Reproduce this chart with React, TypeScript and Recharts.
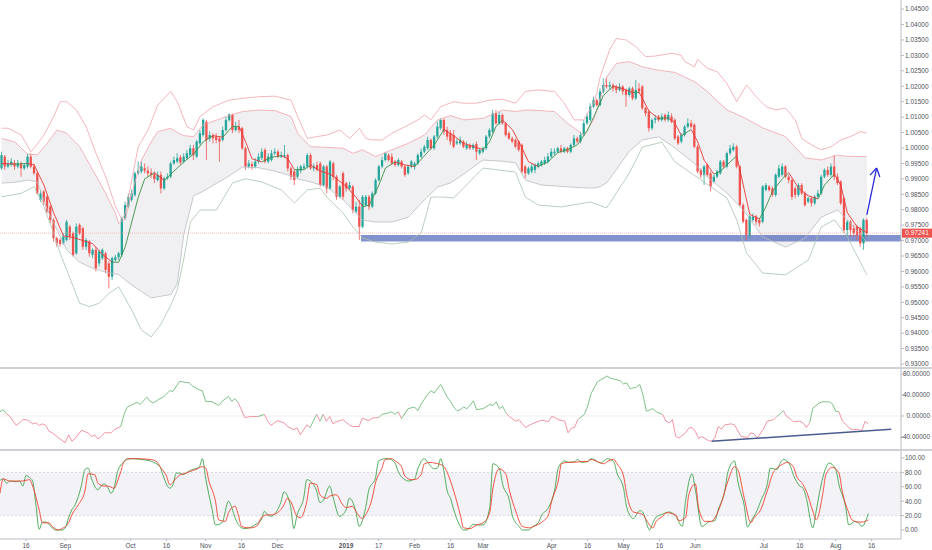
import React from "react";
import { ComposedChart, Bar, Line, Area, XAxis, YAxis, ReferenceLine, ReferenceArea } from "recharts";

const FONT = "'Liberation Sans', Arial, sans-serif";
const W = 932;
const SLOTS = 277;

// daily candles, Aug 2018 - Aug 2019
const opens = [
  0.9934,0.9972,0.9940,0.9945,0.9952,0.9940,0.9948,0.9934,0.9940,0.9972,
  0.9940,0.9918,0.9832,0.9859,0.9842,0.9810,0.9767,0.9708,0.9702,0.9691,
  0.9702,0.9745,0.9724,0.9659,0.9751,0.9740,0.9680,0.9697,0.9654,0.9670,
  0.9626,0.9643,0.9659,0.9626,0.9583,0.9637,0.9646,0.9654,0.9772,0.9810,
  0.9832,0.9848,0.9918,0.9924,0.9934,0.9927,0.9920,0.9916,0.9896,0.9913,
  0.9869,0.9902,0.9907,0.9950,0.9956,0.9970,0.9956,0.9967,0.9977,0.9999,
  0.9972,1.0015,1.0042,1.0085,1.0031,1.0042,1.0037,1.0031,1.0026,1.0058,
  1.0091,1.0107,1.0058,1.0069,1.0064,0.9999,0.9940,0.9948,0.9940,0.9956,
  0.9967,0.9994,0.9956,0.9961,0.9983,0.9988,0.9972,0.9972,0.9977,0.9934,
  0.9924,0.9907,0.9927,0.9934,0.9940,0.9977,0.9934,0.9945,0.9950,0.9880,
  0.9940,0.9869,0.9950,0.9907,0.9842,0.9918,0.9886,0.9869,0.9875,0.9794,
  0.9810,0.9745,0.9815,0.9842,0.9810,0.9853,0.9896,0.9940,0.9961,0.9977,
  0.9972,0.9956,0.9945,0.9956,0.9940,0.9918,0.9940,0.9940,0.9950,0.9972,
  0.9988,0.9999,1.0026,0.9999,1.0037,1.0064,1.0091,1.0058,1.0048,1.0042,
  1.0015,1.0015,1.0021,0.9999,1.0010,0.9999,1.0013,0.9983,0.9988,0.9999,
  1.0037,1.0053,1.0112,1.0080,1.0107,1.0080,1.0048,1.0031,1.0026,1.0021,
  1.0010,0.9940,0.9918,0.9924,0.9929,0.9940,0.9945,0.9950,0.9956,0.9972,
  0.9983,0.9988,0.9999,0.9988,0.9999,0.9988,1.0010,1.0031,1.0021,1.0042,
  1.0080,1.0091,1.0134,1.0155,1.0139,1.0183,1.0204,1.0199,1.0204,1.0199,
  1.0188,1.0199,1.0188,1.0172,1.0193,1.0161,1.0193,1.0199,1.0129,1.0118,
  1.0064,1.0091,1.0102,1.0091,1.0107,1.0091,1.0102,1.0091,1.0037,1.0021,
  1.0042,1.0069,1.0080,1.0075,1.0004,0.9929,0.9913,0.9945,0.9918,0.9891,
  0.9907,0.9918,0.9956,0.9940,0.9983,0.9994,1.0004,0.9940,0.9815,0.9767,
  0.9718,0.9767,0.9778,0.9767,0.9761,0.9864,0.9875,0.9869,0.9848,0.9907,
  0.9913,0.9940,0.9907,0.9896,0.9869,0.9848,0.9880,0.9853,0.9826,0.9837,
  0.9821,0.9842,0.9853,0.9907,0.9929,0.9913,0.9940,0.9907,0.9891,0.9837,
  0.9734,0.9761,0.9740,0.9745,0.9740,0.9691,0.9767,
];
const highs = [
  0.9988,0.9977,0.9961,0.9967,0.9961,0.9961,0.9956,0.9950,0.9983,0.9983,
  0.9950,0.9924,0.9864,0.9864,0.9848,0.9815,0.9772,0.9713,0.9708,0.9724,
  0.9767,0.9751,0.9729,0.9756,0.9756,0.9745,0.9708,0.9702,0.9675,0.9680,
  0.9670,0.9675,0.9664,0.9632,0.9648,0.9654,0.9664,0.9778,0.9826,0.9853,
  0.9864,0.9924,0.9956,0.9956,0.9950,0.9940,0.9934,0.9924,0.9924,0.9924,
  0.9907,0.9918,0.9956,0.9972,0.9983,0.9977,0.9983,0.9994,1.0010,1.0010,
  1.0026,1.0058,1.0096,1.0091,1.0053,1.0048,1.0048,1.0037,1.0069,1.0102,
  1.0112,1.0112,1.0085,1.0091,1.0069,1.0004,0.9961,0.9956,0.9967,0.9983,
  0.9999,0.9999,0.9983,0.9994,0.9999,0.9994,0.9988,1.0010,0.9983,0.9940,
  0.9929,0.9940,0.9945,0.9950,0.9983,0.9983,0.9950,0.9956,0.9956,0.9945,
  0.9945,0.9961,0.9956,0.9913,0.9880,0.9924,0.9891,0.9891,0.9880,0.9826,
  0.9832,0.9848,0.9848,0.9848,0.9859,0.9902,0.9945,0.9972,0.9988,0.9983,
  0.9983,0.9961,0.9967,0.9961,0.9945,0.9945,0.9961,0.9956,0.9983,0.9999,
  1.0010,1.0037,1.0031,1.0042,1.0085,1.0096,1.0096,1.0069,1.0058,1.0058,
  1.0031,1.0037,1.0026,1.0021,1.0015,1.0015,1.0021,0.9999,1.0004,1.0042,
  1.0064,1.0123,1.0123,1.0118,1.0112,1.0085,1.0053,1.0037,1.0031,1.0026,
  1.0015,0.9945,0.9940,0.9950,0.9950,0.9956,0.9961,0.9972,0.9983,0.9999,
  0.9999,1.0004,1.0010,1.0004,1.0004,1.0015,1.0042,1.0037,1.0053,1.0091,
  1.0112,1.0145,1.0166,1.0161,1.0193,1.0226,1.0231,1.0215,1.0210,1.0204,
  1.0210,1.0204,1.0193,1.0199,1.0199,1.0220,1.0210,1.0204,1.0134,1.0123,
  1.0096,1.0107,1.0107,1.0112,1.0112,1.0118,1.0112,1.0096,1.0042,1.0048,
  1.0075,1.0096,1.0091,1.0080,1.0010,0.9934,0.9945,0.9950,0.9924,0.9913,
  0.9929,0.9961,0.9961,0.9988,1.0010,1.0015,1.0010,0.9945,0.9821,0.9772,
  0.9783,0.9788,0.9783,0.9772,0.9880,0.9886,0.9880,0.9875,0.9918,0.9945,
  0.9950,0.9945,0.9913,0.9902,0.9875,0.9886,0.9886,0.9859,0.9842,0.9842,
  0.9848,0.9864,0.9913,0.9934,0.9940,0.9950,0.9977,0.9918,0.9896,0.9842,
  0.9767,0.9767,0.9751,0.9751,0.9745,0.9772,0.9772,
];
const lows = [
  0.9929,0.9929,0.9934,0.9940,0.9929,0.9934,0.9907,0.9929,0.9934,0.9934,
  0.9913,0.9848,0.9826,0.9815,0.9788,0.9756,0.9697,0.9680,0.9680,0.9686,
  0.9697,0.9702,0.9648,0.9654,0.9718,0.9670,0.9670,0.9648,0.9643,0.9600,
  0.9616,0.9637,0.9594,0.9545,0.9572,0.9632,0.9637,0.9648,0.9767,0.9805,
  0.9826,0.9842,0.9913,0.9918,0.9918,0.9907,0.9902,0.9886,0.9891,0.9853,
  0.9864,0.9896,0.9902,0.9945,0.9950,0.9945,0.9950,0.9961,0.9972,0.9961,
  0.9967,1.0010,1.0037,0.9961,1.0021,1.0015,1.0015,0.9956,1.0021,1.0053,
  1.0085,1.0048,1.0053,1.0048,0.9994,0.9929,0.9934,0.9929,0.9934,0.9950,
  0.9961,0.9950,0.9950,0.9956,0.9977,0.9967,0.9967,0.9967,0.9924,0.9896,
  0.9880,0.9902,0.9918,0.9929,0.9934,0.9929,0.9924,0.9924,0.9875,0.9875,
  0.9853,0.9864,0.9896,0.9832,0.9837,0.9832,0.9859,0.9864,0.9788,0.9788,
  0.9702,0.9740,0.9810,0.9799,0.9805,0.9848,0.9891,0.9934,0.9956,0.9956,
  0.9945,0.9940,0.9940,0.9934,0.9907,0.9913,0.9934,0.9929,0.9945,0.9967,
  0.9983,0.9994,0.9994,0.9994,1.0031,1.0058,1.0042,1.0026,1.0010,0.9999,
  1.0010,1.0010,0.9999,0.9994,0.9994,0.9994,0.9961,0.9977,0.9983,0.9994,
  1.0031,1.0048,1.0075,1.0075,1.0075,1.0037,1.0026,1.0015,0.9999,0.9988,
  0.9918,0.9902,0.9913,0.9918,0.9918,0.9934,0.9940,0.9945,0.9950,0.9967,
  0.9977,0.9983,0.9983,0.9983,0.9983,0.9983,1.0004,1.0015,1.0015,1.0037,
  1.0075,1.0085,1.0129,1.0134,1.0134,1.0177,1.0193,1.0188,1.0183,1.0177,
  1.0183,1.0172,1.0134,1.0166,1.0155,1.0155,1.0177,1.0123,1.0102,1.0053,
  1.0058,1.0080,1.0085,1.0085,1.0085,1.0085,1.0080,1.0026,1.0010,1.0015,
  1.0037,1.0064,1.0064,0.9999,0.9918,0.9902,0.9880,0.9907,0.9859,0.9886,
  0.9902,0.9913,0.9934,0.9934,0.9977,0.9988,0.9934,0.9810,0.9756,0.9702,
  0.9708,0.9761,0.9751,0.9745,0.9756,0.9859,0.9859,0.9842,0.9842,0.9902,
  0.9907,0.9902,0.9886,0.9832,0.9837,0.9842,0.9848,0.9810,0.9821,0.9810,
  0.9815,0.9837,0.9848,0.9902,0.9907,0.9907,0.9896,0.9880,0.9815,0.9724,
  0.9713,0.9713,0.9713,0.9702,0.9680,0.9670,0.9713,
];
const closes = [
  0.9977,0.9940,0.9950,0.9956,0.9940,0.9950,0.9934,0.9945,0.9972,0.9940,
  0.9918,0.9853,0.9853,0.9826,0.9794,0.9767,0.9708,0.9691,0.9689,0.9713,
  0.9761,0.9713,0.9654,0.9745,0.9724,0.9680,0.9702,0.9659,0.9670,0.9610,
  0.9664,0.9670,0.9605,0.9583,0.9643,0.9646,0.9659,0.9772,0.9815,0.9842,
  0.9853,0.9918,0.9927,0.9940,0.9927,0.9918,0.9913,0.9899,0.9913,0.9869,
  0.9902,0.9907,0.9950,0.9961,0.9967,0.9953,0.9972,0.9983,0.9999,0.9977,
  1.0021,1.0048,1.0091,1.0026,1.0042,1.0031,1.0026,1.0021,1.0058,1.0091,
  1.0109,1.0058,1.0069,1.0058,0.9999,0.9940,0.9950,0.9940,0.9956,0.9972,
  0.9988,0.9956,0.9972,0.9983,0.9988,0.9972,0.9977,0.9977,0.9934,0.9907,
  0.9896,0.9929,0.9940,0.9940,0.9977,0.9934,0.9940,0.9929,0.9880,0.9940,
  0.9869,0.9956,0.9907,0.9842,0.9875,0.9842,0.9869,0.9880,0.9799,0.9810,
  0.9745,0.9842,0.9842,0.9810,0.9853,0.9896,0.9940,0.9961,0.9983,0.9961,
  0.9950,0.9945,0.9961,0.9940,0.9913,0.9940,0.9956,0.9950,0.9977,0.9988,
  1.0004,1.0026,0.9999,1.0037,1.0069,1.0091,1.0053,1.0037,1.0021,1.0004,
  1.0021,1.0026,1.0004,1.0010,0.9999,1.0010,0.9988,0.9994,0.9999,1.0037,
  1.0058,1.0112,1.0080,1.0107,1.0080,1.0042,1.0031,1.0021,1.0004,0.9994,
  0.9924,0.9918,0.9934,0.9940,0.9945,0.9950,0.9956,0.9961,0.9972,0.9988,
  0.9988,0.9999,0.9988,0.9999,0.9988,1.0010,1.0031,1.0021,1.0042,1.0080,
  1.0102,1.0134,1.0155,1.0139,1.0183,1.0204,1.0199,1.0204,1.0193,1.0188,
  1.0199,1.0183,1.0172,1.0193,1.0161,1.0188,1.0183,1.0129,1.0112,1.0064,
  1.0091,1.0096,1.0091,1.0102,1.0091,1.0107,1.0085,1.0031,1.0015,1.0042,
  1.0069,1.0080,1.0069,1.0004,0.9924,0.9913,0.9940,0.9913,0.9875,0.9907,
  0.9924,0.9956,0.9940,0.9983,0.9999,1.0004,0.9940,0.9815,0.9761,0.9718,
  0.9778,0.9778,0.9761,0.9756,0.9875,0.9880,0.9864,0.9848,0.9913,0.9934,
  0.9940,0.9907,0.9896,0.9842,0.9848,0.9880,0.9853,0.9815,0.9837,0.9821,
  0.9842,0.9853,0.9907,0.9929,0.9913,0.9940,0.9907,0.9886,0.9821,0.9734,
  0.9761,0.9734,0.9724,0.9718,0.9691,0.9767,0.9724,
];
const lastPrice = 0.97241;

// Bollinger-style envelopes (read at sample days)
const outerUpIdx = [0,2,6,9,10,13,16,18,20,23,26,29,32,35,37,38,40,42,45,48,52,54,57,59,61,65,70,74,79,84,89,91,94,97,100,104,107,110,112,114,117,120,124,128,130,132,135,139,142,146,150,154,158,161,165,170,173,176,179,182,183,184,186,187,189,192,195,198,201,206,209,210,213,214,217,220,223,226,229,232,235,238,241,244,246,249,252,255,258,261,264,266];
const outerUp = [1.0064,1.0064,1.0042,0.9988,0.9999,1.0042,1.0102,1.0150,1.0150,1.0123,1.0069,0.9983,0.9907,0.9810,0.9767,0.9788,0.9896,1.0004,1.0058,1.0139,1.0183,1.0150,1.0069,1.0058,1.0102,1.0134,1.0155,1.0161,1.0166,1.0168,1.0155,1.0102,1.0031,1.0037,1.0042,1.0058,1.0031,1.0064,1.0031,1.0026,1.0026,1.0048,1.0069,1.0091,1.0107,1.0091,1.0134,1.0150,1.0145,1.0145,1.0155,1.0158,1.0145,1.0183,1.0188,1.0183,1.0145,1.0091,1.0091,1.0145,1.0180,1.0230,1.0290,1.0320,1.0355,1.0350,1.0328,1.0296,1.0298,1.0307,1.0300,1.0280,1.0263,1.0287,1.0258,1.0247,1.0209,1.0150,1.0204,1.0166,1.0134,1.0123,1.0129,1.0091,1.0031,1.0010,0.9994,1.0004,1.0026,1.0037,1.0053,1.0048];
const outerLoIdx = [0,6,10,13,16,18,22,24,27,30,33,36,40,43,46,49,52,54,56,58,61,66,71,75,80,86,90,94,98,100,105,108,111,115,120,125,129,132,136,139,148,158,161,165,172,181,186,193,197,203,207,223,226,229,234,241,248,252,256,260,266];
const outerLo = [0.9842,0.9853,0.9875,0.9810,0.9723,0.9659,0.9551,0.9497,0.9486,0.9497,0.9529,0.9550,0.9475,0.9410,0.9388,0.9430,0.9490,0.9540,0.9640,0.9760,0.9799,0.9799,0.9887,0.9900,0.9890,0.9864,0.9822,0.9864,0.9870,0.9841,0.9789,0.9744,0.9708,0.9695,0.9689,0.9695,0.9725,0.9841,0.9841,0.9838,0.9935,0.9922,0.9841,0.9815,0.9809,0.9825,0.9806,0.9919,1.0003,1.0019,0.9955,0.9838,0.9767,0.9660,0.9595,0.9589,0.9637,0.9744,0.9767,0.9712,0.9589];
const bandIdx = [0,4,8,11,14,17,20,24,28,32,35,36,38,40,43,46,48,52,54,56,59,62,66,70,74,79,84,89,91,95,100,105,108,111,115,120,125,130,134,138,142,148,154,158,161,166,170,174,179,182,184,186,189,193,197,202,207,213,217,223,228,234,241,247,252,257,260,266];
const innerUp = [1.0031,1.0020,0.9980,0.9978,1.0015,1.0058,1.0048,1.0004,0.9929,0.9853,0.9788,0.9755,0.9770,0.9853,0.9961,1.0020,1.0053,1.0064,1.0050,1.0040,1.0037,1.0075,1.0090,1.0105,1.0118,1.0123,1.0121,1.0102,1.0048,1.0004,1.0002,0.9999,0.9983,0.9994,0.9972,0.9994,1.0015,1.0042,1.0091,1.0105,1.0091,1.0096,1.0123,1.0118,1.0123,1.0121,1.0118,1.0080,1.0042,1.0091,1.0160,1.0230,1.0274,1.0280,1.0263,1.0252,1.0245,1.0215,1.0183,1.0123,1.0100,1.0065,1.0037,0.9968,0.9961,0.9977,0.9973,0.9972];
const innerLo = [0.9886,0.9889,0.9896,0.9890,0.9800,0.9735,0.9670,0.9630,0.9610,0.9598,0.9592,0.9590,0.9572,0.9556,0.9535,0.9514,0.9518,0.9525,0.9560,0.9720,0.9845,0.9860,0.9885,0.9910,0.9938,0.9936,0.9925,0.9910,0.9900,0.9890,0.9874,0.9832,0.9799,0.9767,0.9760,0.9760,0.9776,0.9832,0.9873,0.9887,0.9915,0.9961,0.9957,0.9952,0.9896,0.9880,0.9877,0.9874,0.9871,0.9870,0.9875,0.9887,0.9930,0.9990,1.0026,1.0036,1.0000,0.9950,0.9906,0.9854,0.9799,0.9712,0.9679,0.9708,0.9776,0.9799,0.9767,0.9695];

// fast moving average drawn over the candles
const maIdx = [0,4,8,10,13,16,19,22,25,28,31,34,36,38,40,42,44,47,50,53,56,59,62,65,68,71,73,75,77,80,83,86,88,90,93,95,98,101,103,106,109,111,113,116,118,121,124,127,130,133,136,139,142,145,148,150,152,154,157,160,162,165,168,171,174,177,180,182,185,188,191,194,196,199,202,205,207,209,212,214,216,219,221,224,226,228,230,233,235,237,240,242,245,248,251,253,256,258,260,263,266];
const maVal = [0.9950,0.9948,0.9950,0.9945,0.9880,0.9790,0.9715,0.9710,0.9700,0.9690,0.9655,0.9630,0.9630,0.9680,0.9760,0.9840,0.9900,0.9920,0.9895,0.9925,0.9955,0.9980,1.0020,1.0040,1.0035,1.0070,1.0070,1.0020,0.9965,0.9955,0.9970,0.9975,0.9965,0.9930,0.9930,0.9945,0.9925,0.9915,0.9900,0.9875,0.9840,0.9810,0.9815,0.9880,0.9935,0.9955,0.9945,0.9940,0.9975,1.0010,1.0060,1.0040,1.0015,1.0005,0.9995,1.0020,1.0070,1.0090,1.0060,1.0000,0.9955,0.9940,0.9955,0.9985,0.9995,1.0010,1.0055,1.0100,1.0170,1.0200,1.0192,1.0180,1.0180,1.0120,1.0095,1.0098,1.0080,1.0040,1.0060,1.0020,0.9960,0.9915,0.9925,0.9955,0.9975,0.9880,0.9785,0.9770,0.9810,0.9860,0.9900,0.9920,0.9870,0.9845,0.9835,0.9880,0.9915,0.9880,0.9790,0.9745,0.9725];

// middle oscillator
const oscIdx = [
  0,1,2,3,5,6,7,8,9,10, 11,12,13,14,15,16,18,20,21,22, 23,25,26,27,28,29,30,31,32,34,
  35,37,38,39,40,42,43,45,46,47, 49,50,52,53,55,56,58,59,61,62, 63,65,67,68,70,71,72,73,75,77,
  79,81,82,83,85,87,88,90,91,92, 93,94,95,97,98,99,100,101,102,103, 105,107,108,110,111,113,114,116,117,119,
  120,121,122,123,125,127,128,129,131,132, 133,135,137,138,139,140,141,142,143,144, 145,146,148,150,151,152,153,154,155,156,
  158,159,160,161,162,163,165,166,168,169, 170,171,173,174,175,176,177,179,180,181, 183,184,186,187,189,190,191,192,193,195,
  196,197,198,200,201,203,204,205,206,207, 208,210,211,212,213,214,215,217,218,219, 220,221,222,224,225,227,229,230,231,232,
  234,235,237,238,240,241,242,243,245,246, 247,248,249,251,252,254,255,256,257,258, 260,261,263,264,265,266,
];
const oscVal = [
  8,12,4,-1,-18,-13,-7,-7,-10,-15, -13,-18,-15,-18,-29,-32,-42,-51,-36,-48, -43,-27,-30,-32,-39,-36,-44,-39,-32,-32,
  -26,-20,3,17,20,26,22,36,28,25, 33,36,48,47,66,65,63,57,50,48, 28,27,20,28,37,28,33,25,-3,-1,
  -1,3,-10,-18,-9,-13,-20,-26,-23,-36, -26,-17,-22,3,-10,3,-10,-1,-15,-11, -7,-17,-20,-20,-4,-9,-4,-3,3,6,
  8,3,8,-5,14,17,10,23,41,48, 44,60,36,28,17,10,12,17,14,20, 29,12,14,22,20,27,14,18,6,-1,
  -10,-7,-15,-22,-18,-15,-10,-8,-11,-1, -3,-7,-10,-32,-23,-22,-7,3,18,42, 65,69,76,72,69,67,61,63,52,55,
  60,39,9,14,8,3,-10,-13,-7,-39, -42,-32,-23,-22,-29,-43,-39,-47,-48,-42, -20,-25,-17,-15,-17,-39,-41,-32,-34,-42,
  -23,-10,-7,-1,10,-1,-5,-11,-10,-13, -22,-13,15,25,27,27,23,9,8,-9, -22,-26,-26,-28,-10,-15,
];
const oscTrend = [{ i: 218, v: -48.3 }, { i: 273, v: -25.4 }];

// stochastic %K and %D
const kIdx = [0,1,2,3,5,6,7,8,9,10,11,12,13,14,16,17,19,20,21,22,23,25,26,27,28,30,31,32,33,34,35,36,38,39,41,43,46,47,49,50,52,53,54,55,56,58,59,61,62,63,65,66,68,70,71,72,74,75,77,78,80,81,82,83,85,86,87,89,90,91,93,94,95,97,98,99,101,102,104,106,107,109,110,112,113,115,116,118,119,121,122,124,125,127,128,130,131,133,134,135,136,137,138,139,141,142,143,145,146,148,150,151,153,154,156,157,159,160,162,163,165,166,168,170,171,173,174,176,177,178,180,181,182,184,185,186,188,189,191,192,194,196,197,199,200,201,203,205,207,209,210,212,213,215,217,219,220,222,223,225,226,228,229,230,232,233,235,236,238,239,240,242,243,245,246,247,249,250,252,254,256,257,259,260,262,263,264,266];
const kVal = [69,71,65,68,67,68,61,76,73,68,35,1,11,11,3,0,0,3,17,28,35,63,84,86,72,56,61,64,59,51,59,81,95,99,99,98,96,94,88,75,58,63,79,79,77,82,84,87,99,72,28,7,10,40,31,17,3,2,4,7,14,26,21,19,28,38,53,33,2,21,44,70,68,54,38,41,61,46,19,28,44,26,5,31,56,72,96,99,99,93,81,70,68,71,85,99,94,85,86,99,81,54,44,28,5,0,0,8,7,7,31,92,85,63,42,19,5,0,0,4,11,21,31,58,86,96,94,95,98,94,95,99,98,93,96,99,95,79,58,31,16,27,24,0,10,18,22,25,19,5,40,78,56,5,11,13,28,54,81,96,68,33,4,12,28,40,63,86,84,93,98,90,77,61,58,44,3,26,72,93,84,63,33,7,12,10,5,23];
const dIdx = [0,1,3,6,7,9,10,12,13,15,16,18,19,21,22,24,26,27,29,30,32,33,35,36,37,38,40,42,46,48,49,51,52,54,55,57,58,60,62,63,64,66,67,69,70,72,73,74,76,77,79,80,82,83,85,87,88,89,91,92,94,95,97,98,100,101,103,105,106,108,109,111,112,114,115,117,118,120,121,123,124,126,127,129,130,132,133,135,136,138,139,141,142,144,146,148,150,151,153,155,156,158,160,162,164,166,168,169,171,172,174,176,178,180,181,183,185,186,188,189,191,192,194,195,197,198,200,201,203,204,207,208,210,211,213,214,216,218,219,221,223,225,226,228,230,231,233,235,237,238,240,241,243,244,246,247,249,250,252,253,255,257,258,260,261,263,264,266];
const dVal = [51,71,68,68,68,70,61,28,10,10,5,0,2,10,21,35,54,78,77,65,61,61,58,68,81,95,99,99,98,95,88,75,63,72,76,79,81,84,88,86,68,40,14,12,24,33,21,5,3,3,7,17,21,21,24,35,44,40,19,17,40,65,63,49,44,47,49,35,31,33,26,16,21,44,65,86,98,99,96,88,75,70,70,77,92,94,93,91,88,68,54,21,3,2,7,10,24,58,85,77,56,26,5,3,6,11,21,40,68,92,94,94,95,95,98,95,92,95,98,92,75,49,25,24,21,14,3,12,19,24,21,13,17,49,64,31,12,12,17,38,68,88,84,44,10,17,28,54,81,86,92,94,88,75,63,54,26,14,49,77,87,79,54,24,14,11,11,14];

const dateTicks = [8, 20, 40, 51, 63, 74, 85, 106, 116, 127, 138, 148, 169, 180, 191, 202, 213, 234, 245, 256, 267];
const dateLabels = ["16", "Sep", "Oct", "16", "Nov", "16", "Dec", "2019", "17", "Feb", "16", "Mar", "Apr", "16", "May", "16", "Jun", "Jul", "16", "Aug", "16"];
const priceTicks = [0.93, 0.935, 0.94, 0.945, 0.95, 0.955, 0.96, 0.965, 0.97, 0.975, 0.98, 0.985, 0.99, 0.995, 1.0, 1.005, 1.01, 1.015, 1.02, 1.025, 1.03, 1.035, 1.04, 1.045];
const oscTicks = [-40, 0, 40, 80];
const stochTicks = [0, 20, 40, 60, 80, 100];
const zone = { top: 0.9718, bottom: 0.9697, from: 111 };
const arrow = { from: { i: 266, p: 0.9783 }, tip: { i: 269, p: 0.9935 }, left: { i: 267, p: 0.9912 }, right: { i: 270, p: 0.9906 } };

const GREEN = "#26a69a";
const RED = "#ef5350";

const rows: Record<string, any>[] = Array.from({ length: SLOTS }, (_, i) => ({ i }));
closes.forEach((c, i) => {
  rows[i].o = opens[i];
  rows[i].h = highs[i];
  rows[i].l = lows[i];
  rows[i].c = c;
  rows[i].hl = [lows[i], highs[i]];
});
bandIdx.forEach((x, j) => {
  rows[x].band = [innerLo[j], innerUp[j]];
  rows[x].iu = innerUp[j];
  rows[x].il = innerLo[j];
});
outerUpIdx.forEach((x, j) => (rows[x].ou = outerUp[j]));
outerLoIdx.forEach((x, j) => (rows[x].ol = outerLo[j]));
kIdx.forEach((x, j) => (rows[x].k = kVal[j]));
dIdx.forEach((x, j) => (rows[x].d = dVal[j]));

// split a line into same-colour runs, each run gets its own key
function splitRuns(prefix: string, idx: number[], vals: number[], isGreen: (a: number, b: number) => boolean) {
  const runs: { key: string; green: boolean }[] = [];
  let cur: { key: string; green: boolean } | null = null;
  for (let j = 0; j < idx.length - 1; j++) {
    const g = isGreen(vals[j], vals[j + 1]);
    if (!cur || cur.green !== g) {
      cur = { key: prefix + runs.length, green: g };
      runs.push(cur);
      rows[idx[j]][cur.key] = vals[j];
    }
    rows[idx[j + 1]][cur.key] = vals[j + 1];
  }
  return runs;
}
const maRuns = splitRuns("ma", maIdx, maVal, (a, b) => b >= a);
const oscRuns = splitRuns("os", oscIdx, oscVal, (_a, b) => b > 0);

const Candle = (props: any) => {
  const { x, y, width, height, payload } = props;
  if (!payload || payload.o == null) return <g />;
  const { o, h, l, c } = payload;
  const top = Math.min(y, y + height);
  const hh = Math.abs(height);
  const span = h - l || 1e-9;
  const py = (p: number) => top + ((h - p) / span) * hh;
  const color = c >= o ? GREEN : RED;
  const cx = x + width / 2;
  const b1 = py(Math.max(o, c));
  const b2 = py(Math.min(o, c));
  const bw = 2.3;
  return (
    <g>
      <line x1={cx} x2={cx} y1={top} y2={top + hh} stroke={color} strokeWidth={0.8} />
      <rect x={cx - bw / 2} y={b1} width={bw} height={Math.max(b2 - b1, 0.7)} fill={color} />
    </g>
  );
};

const PriceTag = (props: any) => {
  const vb = props.viewBox;
  if (!vb) return null;
  const x = vb.x + vb.width;
  return (
    <g>
      <rect x={x + 1} y={vb.y - 4.5} width={30} height={9} fill={RED} />
      <text x={x + 16} y={vb.y + 2.3} fontSize={6.5} fill="#fff" textAnchor="middle" fontFamily={FONT}>
        {lastPrice.toFixed(5)}
      </text>
    </g>
  );
};

// right-aligned tick so the long "-40.00000" stays inside the page
const EndTick = (props: any) => {
  const { y, payload, digits } = props;
  return (
    <text x={930} y={y + 2.3} textAnchor="end" fontSize={6.5} fontFamily={FONT} fill="#4f525b">
      {Number(payload.value).toFixed(digits)}
    </text>
  );
};

const DateTick = (props: any) => {
  const { x, y, payload } = props;
  const lbl = dateLabels[dateTicks.indexOf(payload.value)] ?? "";
  return (
    <text x={x} y={y + 5} textAnchor="middle" fontSize={6.5} fontFamily={FONT} fontWeight={lbl === "2019" ? 700 : 400} fill="#4f525b">
      {lbl}
    </text>
  );
};

const tickStyle = { fontSize: 6.5, fill: "#4f525b", fontFamily: FONT };
const axisLine = { stroke: "#b8bbc2" };
const noMargin = { top: 0, right: 0, bottom: 0, left: 0 };

export default function App() {
  return (
    <div style={{ position: "relative", width: W, height: 550, background: "#fff", overflow: "hidden" }}>
      <style>{"body{margin:0}"}</style>

      <div style={{ position: "absolute", left: 0, top: 0 }}>
        <ComposedChart width={W} height={367} data={rows} margin={noMargin} barCategoryGap={0} barGap={0}>
          <XAxis dataKey="i" hide />
          <YAxis orientation="right" width={31} type="number" domain={[0.92904, 1.04795]} allowDataOverflow ticks={priceTicks} interval={0}
            tickFormatter={(v: number) => v.toFixed(5)} tick={tickStyle} tickSize={3} tickMargin={1} axisLine={axisLine} tickLine={axisLine} />
          <Area dataKey="band" stroke="none" fill="#f0f0f2" fillOpacity={1} connectNulls dot={false} activeDot={false} isAnimationActive={false} />
          <Line dataKey="ou" stroke="#f3a2ac" strokeWidth={0.8} dot={false} activeDot={false} connectNulls isAnimationActive={false} />
          <Line dataKey="iu" stroke="#f3a2ac" strokeWidth={0.8} dot={false} activeDot={false} connectNulls isAnimationActive={false} />
          <Line dataKey="il" stroke="#b9bdc3" strokeWidth={0.8} dot={false} activeDot={false} connectNulls isAnimationActive={false} />
          <Line dataKey="ol" stroke="#a9c2ae" strokeWidth={0.8} dot={false} activeDot={false} connectNulls isAnimationActive={false} />
          <ReferenceLine y={lastPrice} stroke="#f4a3a3" strokeWidth={0.7} strokeDasharray="1 1" label={<PriceTag />} />
          <Bar dataKey="hl" shape={(p: any) => <Candle {...p} />} activeBar={false} isAnimationActive={false} />
          {maRuns.map((r) => (
            <Line key={r.key} dataKey={r.key} stroke={r.green ? "#3d8f47" : "#e53935"} strokeWidth={0.9} dot={false} activeDot={false} connectNulls isAnimationActive={false} />
          ))}
          <ReferenceArea x1={zone.from} x2={SLOTS - 1} y1={zone.bottom} y2={zone.top} fill="#3f58b0" fillOpacity={0.65} stroke="none" ifOverflow="visible" />
          <ReferenceLine segment={[{ x: arrow.from.i, y: arrow.from.p }, { x: arrow.tip.i, y: arrow.tip.p }]} stroke="#2b2bd9" strokeWidth={1.3} ifOverflow="visible" />
          <ReferenceLine segment={[{ x: arrow.tip.i, y: arrow.tip.p }, { x: arrow.left.i, y: arrow.left.p }]} stroke="#2b2bd9" strokeWidth={1.3} ifOverflow="visible" />
          <ReferenceLine segment={[{ x: arrow.tip.i, y: arrow.tip.p }, { x: arrow.right.i, y: arrow.right.p }]} stroke="#2b2bd9" strokeWidth={1.3} ifOverflow="visible" />
        </ComposedChart>
      </div>

      <div style={{ position: "absolute", left: 0, top: 367, width: W, height: 2, background: "#cfd1d6" }} />

      <div style={{ position: "absolute", left: 0, top: 369 }}>
        <ComposedChart width={W} height={80} data={rows} margin={noMargin}>
          <XAxis dataKey="i" hide />
          <YAxis orientation="right" width={31} type="number" domain={[-62.9, 89.5]} allowDataOverflow ticks={oscTicks} interval={0}
            tick={(p: any) => <EndTick {...p} digits={5} />} tickSize={3} axisLine={axisLine} tickLine={axisLine} />
          <ReferenceLine y={0} stroke="#eeeeee" />
          {oscRuns.map((r) => (
            <Line key={r.key} dataKey={r.key} stroke={r.green ? "#70bb7d" : "#f0899a"} strokeWidth={0.9} dot={false} activeDot={false} connectNulls isAnimationActive={false} />
          ))}
          <ReferenceLine segment={[{ x: oscTrend[0].i, y: oscTrend[0].v }, { x: oscTrend[1].i, y: oscTrend[1].v }]} stroke="#4b5d8f" strokeWidth={1.5} ifOverflow="visible" />
        </ComposedChart>
      </div>

      <div style={{ position: "absolute", left: 0, top: 449, width: W, height: 1.5, background: "#cfd1d6" }} />

      <div style={{ position: "absolute", left: 0, top: 450 }}>
        <ComposedChart width={W} height={100} data={rows} margin={noMargin}>
          <XAxis dataKey="i" ticks={dateTicks} interval={0} tick={<DateTick />} height={11} tickSize={2} axisLine={axisLine} tickLine={axisLine} />
          <YAxis orientation="right" width={31} type="number" domain={[-12.5, 111.1]} allowDataOverflow ticks={stochTicks} interval={0}
            tickFormatter={(v: number) => v.toFixed(2)} tick={tickStyle} tickSize={3} tickMargin={1} axisLine={axisLine} tickLine={axisLine} />
          <ReferenceArea y1={20} y2={80} fill="#f3f3f7" fillOpacity={1} stroke="none" />
          <ReferenceLine y={80} stroke="#c4c4c8" strokeDasharray="2 2" strokeWidth={0.7} />
          <ReferenceLine y={20} stroke="#c4c4c8" strokeDasharray="2 2" strokeWidth={0.7} />
          <Line dataKey="k" type="monotone" stroke="#3fa34d" strokeWidth={0.9} dot={false} activeDot={false} connectNulls isAnimationActive={false} />
          <Line dataKey="d" type="monotone" stroke="#f0412f" strokeWidth={0.9} dot={false} activeDot={false} connectNulls isAnimationActive={false} />
        </ComposedChart>
      </div>
    </div>
  );
}
